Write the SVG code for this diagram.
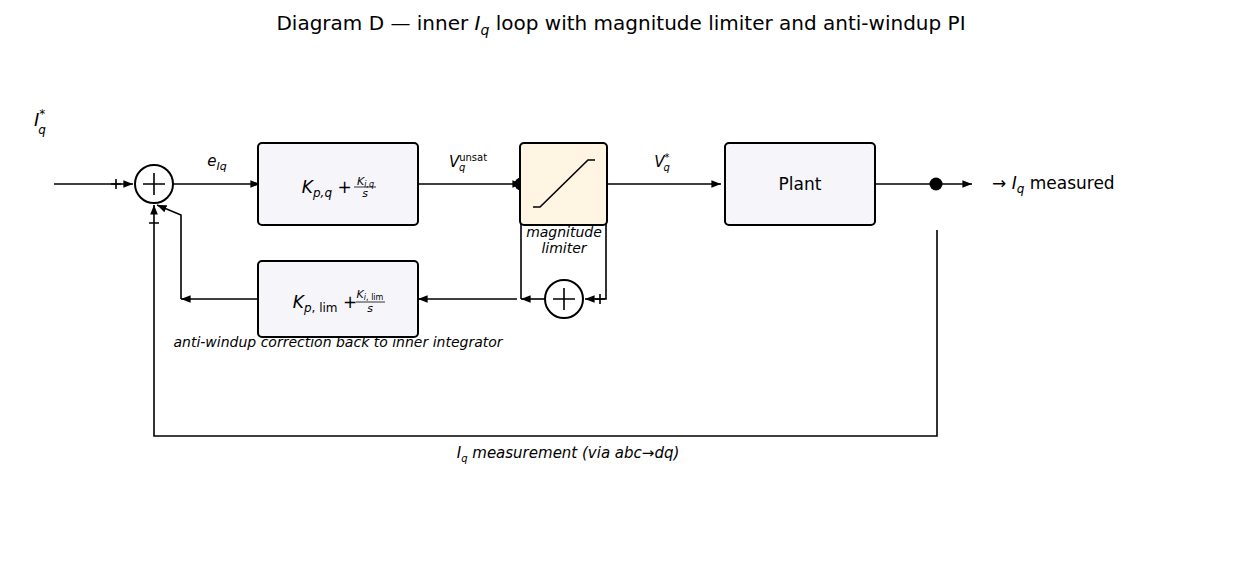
<svg xmlns="http://www.w3.org/2000/svg" width="1243" height="564" viewBox="0 0 1243 564">
<style>
text{font-family:"DejaVu Sans",sans-serif;fill:#000}
.b{fill:#f5f5fa;stroke:#000;stroke-width:2}
.c{fill:none;stroke:#000;stroke-width:1.6}
.s{fill:#fff;stroke:#000;stroke-width:2}
.i{font-style:italic}
</style>
<defs><marker id="a" viewBox="0 0 10 10" refX="10" refY="5" markerWidth="6" markerHeight="6" orient="auto"><path d="M0,1L10,5L0,9z" fill="#000"/></marker></defs>
<rect width="1243" height="564" fill="#fff"/>
<text x="621" y="30" font-size="20" text-anchor="middle">Diagram D — inner <tspan class="i">I</tspan><tspan class="i" font-size="14" dy="5">q</tspan><tspan dy="-5"> loop with magnitude limiter and anti-windup PI</tspan></text>
<g id="connectors">
<path class="c" d="M54,184H133" marker-end="url(#a)"/>
<path class="c" d="M173,184H260" marker-end="url(#a)"/>
<path class="c" d="M418,184H522" marker-end="url(#a)"/>
<path class="c" d="M606,184H721" marker-end="url(#a)"/>
<path class="c" d="M874,184H972" marker-end="url(#a)"/>
<path class="c" d="M521,184V299"/>
<path class="c" d="M545,299H521" marker-end="url(#a)"/>
<path class="c" d="M517,299H418" marker-end="url(#a)"/>
<path class="c" d="M606,184V299H585" marker-end="url(#a)"/>
<path class="c" d="M260,299H181" marker-end="url(#a)"/>
<path class="c" d="M181,299V215L157,205" marker-end="url(#a)"/>
<path class="c" d="M937,230V436H154V205" marker-end="url(#a)"/>
<circle cx="521" cy="184" r="6.5"/>
<circle cx="936" cy="184" r="6.5"/>
<path class="c" d="M111,184h10M116,179v10M595,299h10M600,294v10M149,223h10"/>
<text x="217" y="166" font-size="15" class="i" text-anchor="middle">e<tspan font-size="11" dy="4">Iq</tspan></text>
<text x="468" y="167" font-size="15" class="i" text-anchor="middle">V<tspan font-size="10" dy="-6" font-style="normal">unsat</tspan><tspan font-size="10" dx="-28" dy="10">q</tspan></text>
<text x="662" y="167" font-size="15" class="i" text-anchor="middle">V<tspan font-size="10" dy="-6">*</tspan><tspan font-size="10" dx="-6" dy="10">q</tspan></text>
<text x="568" y="458" font-size="15" class="i" text-anchor="middle">I<tspan font-size="10" dy="4">q</tspan><tspan dy="-4"> measurement (via abc→dq)</tspan></text>
<text x="338" y="347" font-size="14" class="i" text-anchor="middle">anti-windup correction back to inner integrator</text>
</g>
<text x="34" y="126" font-size="18" class="i">I<tspan font-size="12" dy="-8">*</tspan><tspan font-size="12" dx="-7" dy="16">q</tspan></text>
<text x="992" y="189" font-size="17">→ <tspan class="i">I</tspan><tspan class="i" font-size="12" dy="4">q</tspan><tspan dy="-4"> measured</tspan></text>
<g id="sum1"><circle class="s" cx="154" cy="184" r="19"/><path class="c" d="M143,184h22M154,173v22" stroke-width="1"/></g>
<g id="sum2"><circle class="s" cx="564" cy="299" r="19"/><path class="c" d="M553,299h22M564,288v22" stroke-width="1"/></g>
<g id="pi"><rect class="b" x="258" y="143" width="160" height="82" rx="4"/>
<text x="338" y="193" font-size="17" text-anchor="middle"><tspan class="i">K</tspan><tspan class="i" font-size="12" dy="4">p,q</tspan><tspan dy="-4"> + </tspan><tspan font-size="11" class="i" dy="-8">K</tspan><tspan font-size="8" class="i" dy="2">i,q</tspan></text>
<line x1="354" y1="187" x2="376" y2="187" stroke="#000" stroke-width="0.8"/>
<text x="365" y="197" font-size="11" class="i" text-anchor="middle">s</text></g>
<g id="lim"><rect x="520" y="143" width="87" height="82" rx="4" fill="#fff5e2" stroke="#000" stroke-width="2"/>
<path class="c" d="M533,207h7l48,-47h7"/>
<text x="564" y="237" font-size="14" class="i" text-anchor="middle">magnitude</text>
<text x="564" y="253" font-size="14" class="i" text-anchor="middle">limiter</text></g>
<g id="plant"><rect class="b" x="725" y="143" width="150" height="82" rx="4"/>
<text x="800" y="190" font-size="17" text-anchor="middle">Plant</text></g>
<g id="aw"><rect class="b" x="258" y="261" width="160" height="76" rx="4"/>
<text x="325" y="308" font-size="17" text-anchor="middle"><tspan class="i">K</tspan><tspan font-size="12" dy="4"><tspan class="i">p</tspan>, lim</tspan><tspan dy="-4"> + </tspan></text>
<text x="370" y="298" font-size="11" text-anchor="middle"><tspan class="i">K</tspan><tspan font-size="8" dy="2"><tspan class="i">i</tspan>, lim</tspan></text>
<line x1="356" y1="302" x2="385" y2="302" stroke="#000" stroke-width="0.8"/>
<text x="370" y="312" font-size="11" class="i" text-anchor="middle">s</text></g>
</svg>
